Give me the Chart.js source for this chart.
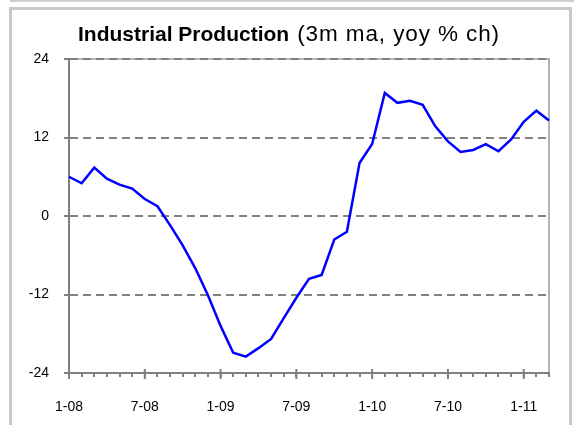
<!DOCTYPE html>
<html>
<head>
<meta charset="utf-8">
<script src="https://cdn.jsdelivr.net/npm/chart.js@4/dist/chart.umd.min.js"></script>
<style>
  body { margin: 0; background: #fff; }
  #topline { position: absolute; left: 10px; right: 0; top: 0; height: 2px; background: #cfcfcf; }
  #frame { position: absolute; left: 9px; top: 7px; width: 557px; height: 430px;
           border: 3px solid #c8c8c8; border-bottom: none; }
  #title { position: absolute; left: 78px; top: 21px; white-space: nowrap;
           font-family: "Liberation Sans", Arial, sans-serif; color: #000; }
  #title b { font-size: 21px; }
  #title span { font-size: 22.5px; margin-left: 8px; letter-spacing: 0.9px; }
  #wrap { position: absolute; left: 0; top: 0; width: 574px; height: 425px; }
</style>
</head>
<body>
<div id="topline"></div>
<div id="frame"></div>
<div id="wrap"><canvas id="myChart"></canvas></div>
<div id="title"><b>Industrial Production</b><span>(3m ma, yoy % ch)</span></div>
<script>
// Monthly categories, Jan 2008 to Mar 2011
var months = [
    '1-08', '2-08', '3-08', '4-08', '5-08', '6-08', '7-08', '8-08', '9-08', '10-08', '11-08', '12-08',
    '1-09', '2-09', '3-09', '4-09', '5-09', '6-09', '7-09', '8-09', '9-09', '10-09', '11-09', '12-09',
    '1-10', '2-10', '3-10', '4-10', '5-10', '6-10', '7-10', '8-10', '9-10', '10-10', '11-10', '12-10',
    '1-11', '2-11', '3-11'
];

// Industrial production, 3m moving average, yoy % change
var production = [
    6.0, 5.0, 7.4, 5.7, 4.8, 4.2, 2.6, 1.5, -1.4, -4.5, -8.0, -12.1,
    -16.8, -20.9, -21.5, -20.2, -18.8, -15.6, -12.5, -9.6, -9.0, -3.6, -2.4, 8.1,
    11.0, 18.8, 17.3, 17.6, 17.0, 13.7, 11.4, 9.8, 10.1, 11.0, 9.9, 11.7,
    14.4, 16.1, 14.6
];

// Only these months get a label and a long tick
var labelledMonths = ['1-08', '7-08', '1-09', '7-09', '1-10', '7-10', '1-11'];

var yTicks = [-24, -12, 0, 12, 24];

var font = { family: '"Liberation Sans", Arial, sans-serif', size: 14 };

// light frame on the top and right of the plot area
var plotFrame = {
    id: 'plotFrame',
    beforeDraw: function (chart) {
        var a = chart.chartArea, ctx = chart.ctx;
        ctx.save();
        ctx.strokeStyle = '#b4b4b4';
        ctx.lineWidth = 2;
        ctx.beginPath();
        ctx.moveTo(a.left, a.top);
        ctx.lineTo(a.right, a.top);
        ctx.lineTo(a.right, a.bottom);
        ctx.stroke();
        ctx.restore();
    },
    // long ticks crossing the x axis at labelled months
    afterDraw: function (chart) {
        var x = chart.scales.x, ctx = chart.ctx, b = chart.chartArea.bottom;
        ctx.save();
        ctx.strokeStyle = '#808080';
        ctx.lineWidth = 2;
        labelledMonths.forEach(function (m) {
            var px = x.getPixelForValue(months.indexOf(m));
            ctx.beginPath();
            ctx.moveTo(px, b - 4);
            ctx.lineTo(px, b + 6);
            ctx.stroke();
        });
        ctx.restore();
    }
};

var ctx = document.getElementById('myChart').getContext('2d');
var myChart = new Chart(ctx, {
    type: 'line',
    data: {
        labels: months,
        datasets: [{
            data: production,
            borderColor: '#0000ff',
            borderWidth: 2.5,
            pointRadius: 0,
            tension: 0,
            fill: false
        }]
    },
    options: {
        responsive: true,
        maintainAspectRatio: false,
        animation: false,
        layout: { padding: { left: 0, right: 25, top: 59, bottom: 0 } },
        plugins: {
            legend: { display: false },
            tooltip: { enabled: false }
        },
        scales: {
            x: {
                type: 'category',
                offset: false,
                afterFit: function (scale) { scale.height = 52; },
                grid: {
                    drawOnChartArea: false,
                    drawTicks: true,
                    tickLength: 4,
                    color: '#808080',
                    lineWidth: 2
                },
                border: { display: true, color: '#808080', width: 2 },
                ticks: {
                    autoSkip: false,
                    maxRotation: 0,
                    padding: 22,
                    color: '#000',
                    font: font,
                    callback: function (value) {
                        var m = months[value];
                        return labelledMonths.indexOf(m) >= 0 ? m : '';
                    }
                }
            },
            y: {
                min: yTicks[0],
                max: yTicks[yTicks.length - 1],
                afterFit: function (scale) { scale.width = 69; },
                afterBuildTicks: function (scale) {
                    scale.ticks = yTicks.map(function (v) { return { value: v }; });
                },
                grid: {
                    color: '#808080',
                    lineWidth: 2,
                    tickLength: 5
                },
                border: { display: true, color: '#808080', width: 2, dash: [8, 5] },
                ticks: {
                    padding: 15,
                    color: '#000',
                    font: font
                }
            }
        }
    },
    plugins: [plotFrame]
});
</script>
</body>
</html>
